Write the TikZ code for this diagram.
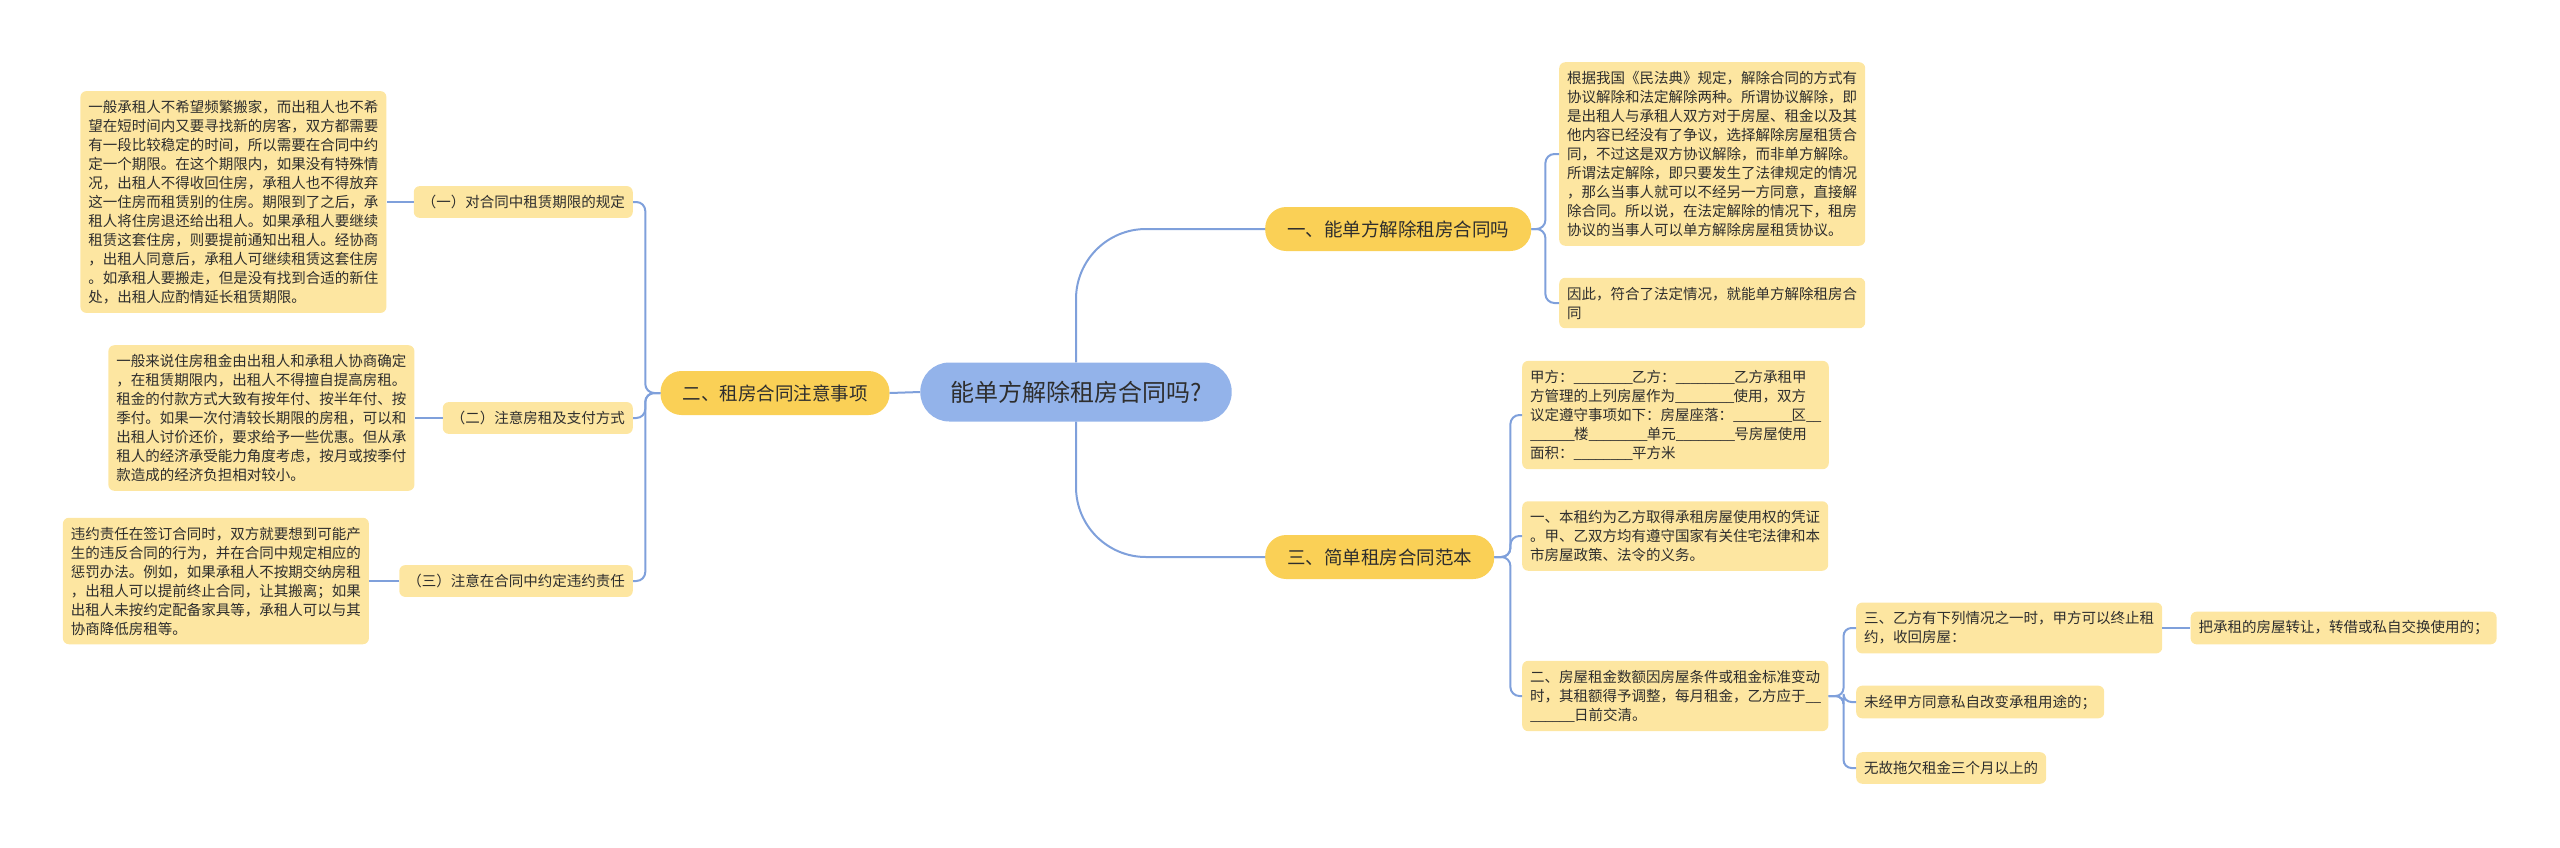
\documentclass[tikz,border=0pt]{standalone}
\usepackage{fontspec}
\setmainfont{Noto Sans CJK SC}
\usetikzlibrary{positioning}
\definecolor{rootblue}{HTML}{93B3EA}
\definecolor{topicgold}{HTML}{FAD056}
\definecolor{paleyellow}{HTML}{FDE6A1}
\definecolor{linkblue}{HTML}{7FA0DB}
\definecolor{ink}{HTML}{2E2E2E}
\newcommand{\blank}[1]{\foreach \i in {1,...,#1}{\_\kern-0.8pt}}
\tikzset{
	root/.style={fill=rootblue, rounded corners=29pt, inner xsep=30pt, minimum height=59pt, text=ink, font=\fontsize{24}{28}\selectfont},
	topic/.style={fill=topicgold, rounded corners=21pt, inner xsep=22pt, minimum height=44pt, text=ink, font=\fontsize{18.5}{22}\selectfont},
	leaf/.style={fill=paleyellow, rounded corners=6pt, inner xsep=8pt, inner ysep=9pt, align=left, text=ink, font=\fontsize{14.5}{19}\selectfont},
	link/.style={draw=linkblue, line width=2pt, rounded corners=9pt},
}

\begin{document}
\begin{tikzpicture}[x=1pt, y=-1pt]
	\useasboundingbox (0,0) rectangle (2560,847);
	\node[root] (root) at (1076,392) {能单方解除租房合同吗?};
	\node[topic] (t2) at (775,393) {二、租房合同注意事项};
	\node[topic, anchor=west] (t1) at (1265,229) {一、能单方解除租房合同吗};
	\node[topic, anchor=west] (t3) at (1265,557) {三、简单租房合同范本};

	\node[leaf, anchor=east] (s1) at (633,202) {（一）对合同中租赁期限的规定};
	\node[leaf, anchor=east] (s2) at (633,418) {（二）注意房租及支付方式};
	\node[leaf, anchor=east] (s3) at (633,581) {（三）注意在合同中约定违约责任};
	\node[leaf, left=27pt of s1] (n1) {一般承租人不希望频繁搬家，而出租人也不希\\望在短时间内又要寻找新的房客，双方都需要\\有一段比较稳定的时间，所以需要在合同中约\\定一个期限。在这个期限内，如果没有特殊情\\况，出租人不得收回住房，承租人也不得放弃\\这一住房而租赁别的住房。期限到了之后，承\\租人将住房退还给出租人。如果承租人要继续\\租赁这套住房，则要提前通知出租人。经协商\\，出租人同意后，承租人可继续租赁这套住房\\。如承租人要搬走，但是没有找到合适的新住\\处，出租人应酌情延长租赁期限。};
	\node[leaf, left=28pt of s2] (n2) {一般来说住房租金由出租人和承租人协商确定\\，在租赁期限内，出租人不得擅自提高房租。\\租金的付款方式大致有按年付、按半年付、按\\季付。如果一次付清较长期限的房租，可以和\\出租人讨价还价，要求给予一些优惠。但从承\\租人的经济承受能力角度考虑，按月或按季付\\款造成的经济负担相对较小。};
	\node[leaf, left=30pt of s3] (n3) {违约责任在签订合同时，双方就要想到可能产\\生的违反合同的行为，并在合同中规定相应的\\惩罚办法。例如，如果承租人不按期交纳房租\\，出租人可以提前终止合同，让其搬离；如果\\出租人未按约定配备家具等，承租人可以与其\\协商降低房租等。};

	\node[leaf, anchor=west] (a1) at (1559,154) {根据我国《民法典》规定，解除合同的方式有\\协议解除和法定解除两种。所谓协议解除，即\\是出租人与承租人双方对于房屋、租金以及其\\他内容已经没有了争议，选择解除房屋租赁合\\同，不过这是双方协议解除，而非单方解除。\\所谓法定解除，即只要发生了法律规定的情况\\，那么当事人就可以不经另一方同意，直接解\\除合同。所以说，在法定解除的情况下，租房\\协议的当事人可以单方解除房屋租赁协议。};
	\node[leaf, anchor=west] (a2) at (1559,303) {因此，符合了法定情况，就能单方解除租房合\\同};

	\node[leaf, anchor=west] (c1) at (1522,415) {甲方：\blank{8}乙方：\blank{8}乙方承租甲\\方管理的上列房屋作为\blank{8}使用，双方\\议定遵守事项如下：房屋座落：\blank{8}区\blank{2}\\\blank{6}楼\blank{8}单元\blank{8}号房屋使用\\面积：\blank{8}平方米};
	\node[leaf, anchor=west] (c2) at (1522,536) {一、本租约为乙方取得承租房屋使用权的凭证\\。甲、乙双方均有遵守国家有关住宅法律和本\\市房屋政策、法令的义务。};
	\node[leaf, anchor=west] (c3) at (1522,696) {二、房屋租金数额因房屋条件或租金标准变动\\时，其租额得予调整，每月租金，乙方应于\blank{2}\\\blank{6}日前交清。};

	\node[leaf, anchor=west] (d1) at (1856,628) {三、乙方有下列情况之一时，甲方可以终止租\\约，收回房屋：};
	\node[leaf, right=28pt of d1] (e1) {把承租的房屋转让，转借或私自交换使用的；};
	\node[leaf, anchor=west] (d2) at (1856,702) {未经甲方同意私自改变承租用途的；};
	\node[leaf, anchor=west] (d3) at (1856,768) {无故拖欠租金三个月以上的};

	\draw[link] (root.west) -- (t2.east);
	\draw[link, rounded corners=70pt] (root.north) |- (t1.west);
	\draw[link, rounded corners=70pt] (root.south) |- (t3.west);
	\foreach \s in {s1,s2,s3}
	\draw[link] (t2.west) -- ++(-15,0) |- (\s.east);
	\draw[link] (s1.west) -- (n1.east);
	\draw[link] (s2.west) -- (n2.east);
	\draw[link] (s3.west) -- (n3.east);
	\foreach \a in {a1,a2}
	\draw[link] (t1.east) -- ++(14,0) |- (\a.west);
	\foreach \c in {c1,c2,c3}
	\draw[link] (t3.east) -- ++(16,0) |- (\c.west);
	\foreach \d in {d1,d2,d3}
	\draw[link, rounded corners=8pt] (c3.east) -- ++(15,0) |- (\d.west);
	\draw[link] (d1.east) -- (e1.west);
\end{tikzpicture}
\end{document}
